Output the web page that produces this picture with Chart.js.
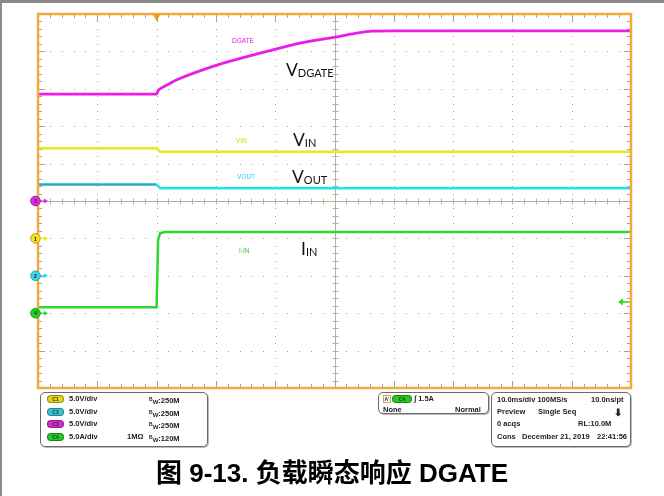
<!DOCTYPE html>
<html><head><meta charset="utf-8">
<script src="https://cdn.jsdelivr.net/npm/chart.js@4.4.1/dist/chart.umd.min.js"></script>
<style>
html,body{margin:0;padding:0;background:#fff;}
#wrap{position:relative;width:664px;height:496px;overflow:hidden;background:#fff;}
canvas{position:absolute;left:0;top:0;}
.t{position:absolute;white-space:nowrap;font-family:"Liberation Sans",Arial,sans-serif;font-weight:bold;font-size:7.5px;line-height:8px;color:#222;}
.box{position:absolute;border:1px solid #6a6a6a;border-radius:5px;box-sizing:border-box;background:#fff;box-shadow:1px 1px 0 #bbb;}
.pill{position:absolute;width:17px;height:8px;border-radius:4px;box-sizing:border-box;font:bold 5px "Liberation Sans",Arial,sans-serif;line-height:6px;text-align:center;color:#333;border:1px solid rgba(0,0,0,0.35);}
.big{position:absolute;font-family:Lato,"Open Sans",sans-serif;font-size:17.5px;line-height:17px;color:#111;white-space:nowrap;}
.big span{font-size:11px;vertical-align:-1px;}
.sm{position:absolute;font-family:"Liberation Sans Narrow","Liberation Sans",sans-serif;font-size:6.5px;line-height:7px;white-space:nowrap;}
#cap{position:absolute;left:0;width:664px;top:459px;text-align:center;font-family:"Liberation Sans","Noto Sans CJK SC",sans-serif;font-weight:bold;font-size:26px;line-height:28px;color:#000;}
</style></head>
<body>
<div id="wrap">
<canvas id="c" width="664" height="496"></canvas>
<div style="position:absolute;left:0;top:0;width:664px;height:3px;background:#8a8a8a;"></div>
<div style="position:absolute;left:0;top:0;width:2px;height:496px;background:#8a8a8a;"></div>

<div class="sm" style="left:232px;top:37px;color:#e020e0;">DGATE</div>
<div class="sm" style="left:236px;top:137px;color:#d8d800;">VIN</div>
<div class="sm" style="left:237px;top:173px;color:#20d8e8;">VOUT</div>
<div class="sm" style="left:239px;top:246.5px;color:#30d030;">I-IN</div>

<div class="big" style="left:286px;top:61px;">V<span>DGATE</span></div>
<div class="big" style="left:293px;top:131px;">V<span>IN</span></div>
<div class="big" style="left:292px;top:167.5px;">V<span>OUT</span></div>
<div class="big" style="left:301px;top:240px;">I<span>IN</span></div>

<div class="box" style="left:40px;top:392px;width:168px;height:55px;"></div>
<div class="box" style="left:378px;top:392px;width:111px;height:22px;"></div>
<div class="box" style="left:491px;top:392px;width:140px;height:55px;"></div>
<div id="panel"></div>
<div id="cap">图 9-13. 负载瞬态响应 DGATE</div>
</div>
<script>
// ---- data (time in ms, volts / amps) ----
const tDgate = [-20, 0, 0.3, 0.9, 2, 3.4, 7.3, 10.7, 12.9, 18.6, 24.2, 30.1, 33.5, 36.3, 40, 80];
const vDgate = [14.3, 14.3, 14.8, 15.15, 15.6, 16.2, 17.4, 18.3, 18.8, 20.0, 21.1, 21.9, 22.4, 22.7, 22.75, 22.75];
const tVin = [-20, 0, 0.6, 80];
const vIn = [12.05, 12.05, 11.6, 11.6];
const tVout = [-20, 0, 0.6, 80];
const vOut = [12.2, 12.2, 11.7, 11.7];
const tIin = [-20, 0, 0.25, 0.6, 1.5, 80];
const iIn = [0.8, 0.8, 9.8, 10.7, 10.85, 10.85];
const channelLabels = ['C1', 'C2', 'C3', 'C4'];
const channelScaleText = ['5.0V/div', '5.0V/div', '5.0V/div', '5.0A/div'];
const channelBwText = ['250M', '250M', '250M', '120M'];
const unitsPerDiv = [5, 5, 5, 5];
const offsetDiv = [-1, -2, 0, -3];
const triggerLevel = 1.5;
const timeRange = [-20, 80];

function toDiv(ts, vs, ch) {
  return ts.map((t, i) => ({x: t, y: vs[i] / unitsPerDiv[ch] + offsetDiv[ch]}));
}

const chColors = ['#e8e81c', '#1fe2f2', '#e81ee8', '#2fd82f'];

const scope = {
  id: 'scope',
  beforeDatasetsDraw(chart) {
    const {ctx, chartArea: a, scales: {x, y}} = chart;
    ctx.save();
    ctx.fillStyle = '#a0a0a0';
    for (let t = -10; t < 80; t += 10) {
      if (t === 30) continue;
      const px = Math.round(x.getPixelForValue(t));
      for (let k = 1; k < 50; k++) {
        const py = Math.round(y.getPixelForValue(-5 + k * 0.2));
        ctx.fillRect(px, py, 1, 1);
      }
    }
    for (let d = -4; d <= 4; d++) {
      if (d === 0) continue;
      const py = Math.round(y.getPixelForValue(d));
      for (let k = 1; k < 50; k++) {
        const px = Math.round(x.getPixelForValue(-20 + k * 2));
        ctx.fillRect(px, py, 1, 1);
      }
    }
    const cx = Math.round(x.getPixelForValue(30)) + 0.5;
    const cy = Math.round(y.getPixelForValue(0)) + 0.5;
    ctx.strokeStyle = '#b9ae9f';
    ctx.lineWidth = 1;
    ctx.beginPath();
    ctx.moveTo(cx, a.top); ctx.lineTo(cx, a.bottom);
    ctx.moveTo(a.left, cy); ctx.lineTo(a.right, cy);
    for (let k = 1; k < 50; k++) {
      const py = Math.round(y.getPixelForValue(-5 + k * 0.2)) + 0.5;
      ctx.moveTo(cx - 3, py); ctx.lineTo(cx + 3, py);
      const px = Math.round(x.getPixelForValue(-20 + k * 2)) + 0.5;
      ctx.moveTo(px, cy - 3); ctx.lineTo(px, cy + 3);
    }
    ctx.stroke();
    ctx.strokeStyle = '#a0a0a0';
    ctx.beginPath();
    for (let k = 1; k < 50; k++) {
      const L = (k % 5 === 0) ? 7 : 4;
      const px = Math.round(x.getPixelForValue(-20 + k * 2)) + 0.5;
      ctx.moveTo(px, a.top); ctx.lineTo(px, a.top + L);
      ctx.moveTo(px, a.bottom); ctx.lineTo(px, a.bottom - L);
      const py = Math.round(y.getPixelForValue(-5 + k * 0.2)) + 0.5;
      ctx.moveTo(a.left, py); ctx.lineTo(a.left + L, py);
      ctx.moveTo(a.right, py); ctx.lineTo(a.right - L, py);
    }
    ctx.stroke();
    ctx.restore();
  },
  afterDatasetsDraw(chart) {
    const {ctx, chartArea: a, scales: {x, y}} = chart;
    ctx.save();
    ctx.strokeStyle = '#f2a93f';
    ctx.lineWidth = 2.5;
    ctx.strokeRect(a.left, a.top, a.right - a.left, a.bottom - a.top);
    const tx = x.getPixelForValue(0);
    ctx.fillStyle = '#f29a1e';
    ctx.beginPath();
    ctx.moveTo(tx - 4, a.top); ctx.lineTo(tx + 4, a.top); ctx.lineTo(tx, a.top + 7);
    ctx.closePath(); ctx.fill();
    const ly = y.getPixelForValue(triggerLevel / unitsPerDiv[3] + offsetDiv[3]);
    ctx.strokeStyle = '#22dd22'; ctx.fillStyle = '#22dd22'; ctx.lineWidth = 1.5;
    ctx.beginPath(); ctx.moveTo(a.right - 9, ly); ctx.lineTo(a.right - 1, ly); ctx.stroke();
    ctx.beginPath(); ctx.moveTo(a.right - 13, ly); ctx.lineTo(a.right - 8, ly - 3.5); ctx.lineTo(a.right - 8, ly + 3.5); ctx.closePath(); ctx.fill();
    const marks = [
      {ch: 2, n: '3', fill: '#e02ce0', stroke: '#9a1a9a'},
      {ch: 0, n: '1', fill: '#f4e41e', stroke: '#d9950f'},
      {ch: 1, n: '2', fill: '#3ad8e8', stroke: '#2aa0b0'},
      {ch: 3, n: '4', fill: '#22d022', stroke: '#169a16'}
    ];
    marks.forEach(m => {
      const py = y.getPixelForValue(offsetDiv[m.ch]);
      const arrowCol = chColors[m.ch];
      ctx.strokeStyle = arrowCol; ctx.fillStyle = arrowCol; ctx.lineWidth = 1.2;
      ctx.beginPath(); ctx.moveTo(40, py); ctx.lineTo(45, py); ctx.stroke();
      ctx.beginPath(); ctx.moveTo(48, py); ctx.lineTo(44, py - 2.5); ctx.lineTo(44, py + 2.5); ctx.closePath(); ctx.fill();
      ctx.beginPath(); ctx.arc(35.5, py, 4.8, 0, Math.PI * 2);
      ctx.fillStyle = m.fill; ctx.fill();
      ctx.strokeStyle = m.stroke; ctx.lineWidth = 1; ctx.stroke();
      ctx.fillStyle = '#333'; ctx.font = 'bold 6px "Liberation Sans", Arial, sans-serif';
      ctx.textAlign = 'center'; ctx.textBaseline = 'middle';
      ctx.fillText(m.n, 35.5, py + 0.5);
    });
    ctx.restore();
  }
};

new Chart(document.getElementById('c'), {
  type: 'line',
  data: {
    datasets: [
      {label: 'IIN', data: toDiv(tIin, iIn, 3), borderColor: chColors[3], borderWidth: 2.5},
      {label: 'VOUT', data: toDiv(tVout, vOut, 1), borderColor: chColors[1], borderWidth: 2.5,
        segment: {borderColor: c => c.p1.parsed.x <= 0 ? '#1fb0bc' : chColors[1]}},
      {label: 'VIN', data: toDiv(tVin, vIn, 0), borderColor: chColors[0], borderWidth: 2.5},
      {label: 'VDGATE', data: toDiv(tDgate, vDgate, 2), borderColor: chColors[2], borderWidth: 2.8,
        cubicInterpolationMode: 'monotone'}
    ]
  },
  options: {
    responsive: false, animation: false, devicePixelRatio: 1,
    layout: {padding: {left: 38, top: 14, right: 33, bottom: 108}},
    elements: {point: {radius: 0}, line: {tension: 0}},
    plugins: {legend: {display: false}, tooltip: {enabled: false}},
    scales: {
      x: {type: 'linear', min: timeRange[0], max: timeRange[1], display: false},
      y: {type: 'linear', min: -5, max: 5, display: false}
    }
  },
  plugins: [scope]
});

const panel = document.getElementById('panel');
function txt(s, left, cy, extra) {
  const d = document.createElement('div');
  d.className = 't';
  d.innerHTML = s;
  d.style.left = left + 'px';
  d.style.top = (cy - 4) + 'px';
  if (extra) Object.assign(d.style, extra);
  panel.appendChild(d);
  return d;
}
function pill(label, left, cy, color, w) {
  const d = document.createElement('div');
  d.className = 'pill';
  d.textContent = label;
  d.style.left = left + 'px';
  d.style.top = (cy - 4) + 'px';
  d.style.background = color;
  if (w) d.style.width = w + 'px';
  panel.appendChild(d);
}
const pillCols = ['#e2d614', '#34c8d8', '#d42ad4', '#22cc22'];
const rows = [399, 411.5, 424, 436.5];
channelLabels.forEach((c, i) => {
  pill(c, 47, rows[i], pillCols[i]);
  txt(channelScaleText[i], 69, rows[i]);
  txt('<span style="font-size:5px;vertical-align:2px">B</span><span style="font-size:6px;vertical-align:-1px">W</span>:' + channelBwText[i], 149, rows[i]);
});
txt('1MΩ', 127, rows[3]);
txt('A\'', 383, 398.5, {border: '1px solid #e8a030', fontSize: '5px', lineHeight: '6px', width: '6px', height: '6px', textAlign: 'center'});
pill('C4', 392, 399, '#22cc22', 20);
txt('∫ 1.5A', 414, 399);
txt('None', 383, 409.5);
txt('Normal', 455, 409.5);
txt('10.0ms/div 100MS/s', 497, 400);
txt('10.0ns/pt', 591, 400);
txt('Preview', 497, 411.7);
txt('Single Seq', 538, 411.7);
txt('⬇', 614, 411.7, {fontSize: '10px', lineHeight: '9px'});
txt('0 acqs', 497, 424);
txt('RL:10.0M', 578, 424);
txt('Cons', 497, 436.7);
txt('December 21, 2019', 522, 436.7);
txt('22:41:56', 597, 436.7);
</script>
</body></html>
